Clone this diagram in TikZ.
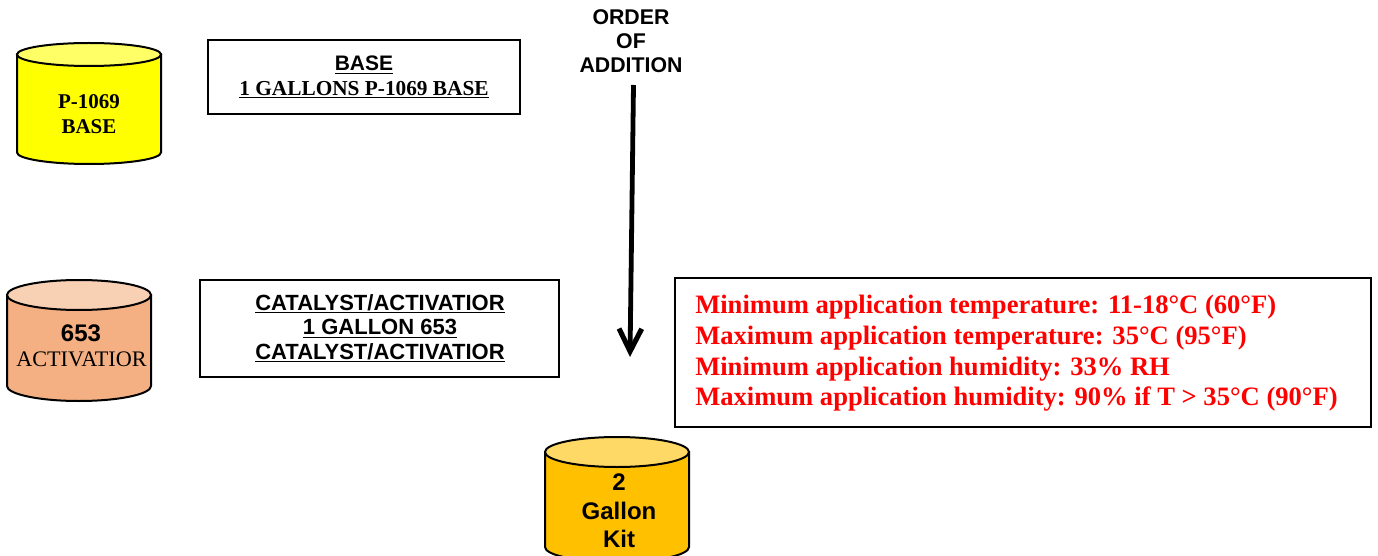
\documentclass[tikz,border=0pt]{standalone}
\usepackage{fontspec}
\setmainfont{Liberation Serif}
\setsansfont{Liberation Sans}
\usetikzlibrary{arrows.meta}
\newcommand{\fpx}[2]{\fontsize{\dimexpr #1pt*3/4\relax}{\dimexpr #2pt*3/4\relax}\selectfont}
% \drumshape{x0}{x1}{ytop}{ybottom}{ry}{body}{lid}
\newcommand{\drumshape}[7]{%
  \draw[drumline,fill=#6] (#1,#3+#5) -- (#1,#4-#5)
    .. controls (#1,#4-#5*0.45) and ({#1+(#2-#1)*0.225},#4) .. ({(#1+#2)/2},#4)
    .. controls ({#2-(#2-#1)*0.225},#4) and (#2,#4-#5*0.45) .. (#2,#4-#5)
    -- (#2,#3+#5) -- cycle;
  \draw[drumline,fill=#7] ({(#1+#2)/2},#3+#5) ellipse ({(#2-#1)/2} and #5);
}
\definecolor{yellowbody}{RGB}{255,255,0}
\definecolor{yellowlid}{RGB}{255,255,102}
\definecolor{peachbody}{RGB}{244,176,131}
\definecolor{peachlid}{RGB}{248,208,180}
\definecolor{goldbody}{RGB}{255,192,0}
\definecolor{goldlid}{RGB}{255,217,102}
\begin{document}
\begin{tikzpicture}[x=0.75pt,y=-0.75pt,
  drumline/.style={draw=black,line width=1.5pt},
  infobox/.style={draw=black,line width=1.4pt,fill=white},
  plain/.style={inner sep=0pt,align=center}]
\useasboundingbox (0,0) rectangle (1378,556);
% drums
\drumshape{17}{161}{43}{164}{11.5}{yellowbody}{yellowlid}
\drumshape{7}{151}{280}{401}{15}{peachbody}{peachlid}
\drumshape{545}{689}{437}{562}{15}{goldbody}{goldlid}
\node[plain,font=\bfseries\fpx{21}{24.5}] (base) at (89,114) {P-1069\\BASE};
\node[plain,font=\sffamily\bfseries\fpx{24}{27}] (n653) at (81,333) {653};
\node[plain,font=\fpx{22.2}{24}] (act) at (81.5,359) {ACTIVATIOR};
\node[plain,font=\sffamily\bfseries\fpx{24}{28.5}] (kit) at (619,511) {2\\Gallon\\Kit};
% boxes
\draw[infobox] (208,40) rectangle (520,114);
\node[plain] (bt1) at (364,65) {\sffamily\bfseries\fpx{21}{24}\underline{BASE}};
\node[plain] (bt2) at (364,90) {\bfseries\fpx{21.3}{24}\underline{1 GALLONS P-1069 BASE}};
\draw[infobox] (200,280) rectangle (559,377);
\node[plain,font=\sffamily\bfseries\fpx{22}{24.5}] (ct) at (380,328.5) {\underline{CATALYST/ACTIVATIOR}\\\underline{1 GALLON 653}\\\underline{CATALYST/ACTIVATIOR}};
\draw[infobox] (675,278) rectangle (1371,427);
\node[plain,align=left,anchor=west,text=red,font=\bfseries\fpx{26.57}{30.7}] (temps) at (695,353.5) {Minimum application temperature: 11-18°C (60°F)\\Maximum application temperature: 35°C (95°F)\\Minimum application humidity: 33\% RH\\Maximum application humidity: 90\% if T > 35°C (90°F)};
% order of addition
\node[plain,font=\sffamily\bfseries\fpx{21.3}{24}] (order) at (631,41) {ORDER\\OF\\ADDITION};
\coordinate (orderstart) at (633.5,85);
\coordinate (orderend) at (630,357);
\draw[line width=3.6pt,-{Straight Barb[length=17pt,width=17pt,line width=3.8pt]}] (orderstart) -- (orderend);
\end{tikzpicture}
\end{document}
